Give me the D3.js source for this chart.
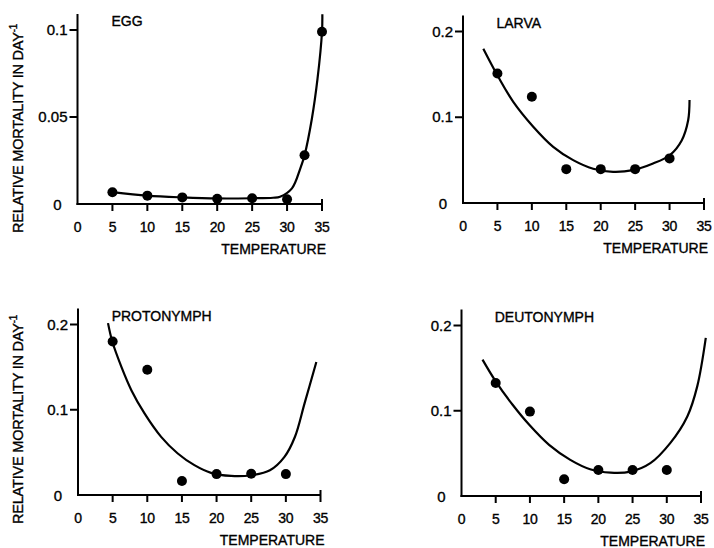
<!DOCTYPE html>
<html>
<head>
<meta charset="utf-8">
<script src="https://cdn.jsdelivr.net/npm/d3@7"></script>
<style>
  body { margin: 0; background: #fff; }
  svg { display: block; }
  text { font-family: "Liberation Sans", Arial, sans-serif; fill: #000; stroke: #000; stroke-width: 0.35px; }
</style>
</head>
<body>
<svg id="chart" width="714" height="548"></svg>
<script>
// measured points
const eggTemp = [5, 10, 15, 20, 25, 30, 32.5, 35];
const eggRate = [0.0068, 0.0048, 0.0038, 0.003, 0.0033, 0.0027, 0.028, 0.099];
const stageTemp = [5, 10, 15, 20, 25, 30];
const larvaRate = [0.151, 0.124, 0.0395, 0.0395, 0.0395, 0.052];
const protoRate = [0.180, 0.147, 0.0165, 0.0245, 0.025, 0.0245];
const deutoRate = [0.1325, 0.099, 0.0196, 0.0306, 0.0306, 0.0306];

// fitted curves
const eggCurveT = [5, 10, 15, 20, 25, 28, 29, 30.7, 31.9, 32.5, 33.55, 34.36, 35, 35.05];
const eggCurveV = [0.0068, 0.0048, 0.0038, 0.0032, 0.0033, 0.0036, 0.0042, 0.009, 0.0205, 0.028, 0.049, 0.072, 0.099, 0.109];
const larvaCurveT = [2.95, 5.13, 7.3, 10.2, 13.1, 16.0, 18.9, 21.8, 24.7, 27.6, 30.06, 31.76, 32.7, 32.9];
const larvaCurveV = [0.180, 0.147, 0.118, 0.089, 0.0655, 0.050, 0.040, 0.0364, 0.0384, 0.046, 0.056, 0.073, 0.0965, 0.12];
const protoCurveT = [4.33, 4.95, 6.25, 7.7, 9.6, 12.0, 14.4, 16.8, 19.2, 22.1, 25.0, 27.7, 29.8, 31.3, 32.7, 34.4];
const protoCurveV = [0.2016, 0.18, 0.1506, 0.123, 0.0957, 0.0682, 0.0487, 0.035, 0.026, 0.0224, 0.0232, 0.029, 0.0447, 0.068, 0.1075, 0.156];
const deutoCurveT = [3.07, 5.0, 7.47, 9.9, 12.8, 15.9, 18.8, 21.8, 24.7, 27.6, 30.5, 33.0, 34.45, 35.7];
const deutoCurveV = [0.16, 0.1345, 0.107, 0.0835, 0.06, 0.0424, 0.0314, 0.0274, 0.0286, 0.0385, 0.062, 0.0933, 0.1286, 0.1855];

const titles = ["EGG", "LARVA", "PROTONYMPH", "DEUTONYMPH"];
const xTicks = [0, 5, 10, 15, 20, 25, 30, 35];
const eggYTicks = [0, 0.05, 0.1];
const stageYTicks = [0, 0.1, 0.2];

const zip = (a, b) => a.map((v, i) => [v, b[i]]);

let panels = [
  {title: titles[0], pts: zip(eggTemp, eggRate), curve: zip(eggCurveT, eggCurveV), yTicks: eggYTicks,
   x0: 77.5, x1: 322, bottom: 204, h: 174, yLabel: true},
  {title: titles[1], pts: zip(stageTemp, larvaRate), curve: zip(larvaCurveT, larvaCurveV), yTicks: stageYTicks,
   x0: 463, x1: 704, bottom: 203, h: 171.5, yLabel: false},
  {title: titles[2], pts: zip(stageTemp, protoRate), curve: zip(protoCurveT, protoCurveV), yTicks: stageYTicks,
   x0: 78, x1: 320.5, bottom: 495, h: 170.5, yLabel: true},
  {title: titles[3], pts: zip(stageTemp, deutoRate), curve: zip(deutoCurveT, deutoCurveV), yTicks: stageYTicks,
   x0: 461.5, x1: 701, bottom: 496, h: 170.5, yLabel: false}
];

let svg = d3.select("#chart");
svg.append("rect").attr("width", 714).attr("height", 548).attr("fill", "#fff");

panels.forEach(function(p){
  let yMax = p.yTicks[p.yTicks.length - 1];
  let x = d3.scaleLinear().domain([0, 35]).range([p.x0, p.x1]);
  let y = d3.scaleLinear().domain([0, yMax]).range([p.bottom, p.bottom - p.h]);
  let g = svg.append("g");

  // axes and ticks as one path each
  let xt = xTicks.filter(d => d > 0).map(d => "M" + x(d) + "," + (p.bottom - (d === 35 ? 5 : 0)) + "V" + (p.bottom + 7)).join("");
  let yt = p.yTicks.filter(d => d > 0).map(d => "M" + (x(0) - 8) + "," + y(d) + "H" + x(0)).join("");
  g.append("path")
    .attr("d", "M" + (x(0) - 1) + "," + p.bottom + "H" + (x(35) + 1) + xt)
    .attr("fill", "none").attr("stroke", "#000").attr("stroke-width", 2);
  g.append("path")
    .attr("d", "M" + x(0) + "," + (p.bottom + 1) + "V" + (y(yMax) - 16) + yt)
    .attr("fill", "none").attr("stroke", "#000").attr("stroke-width", 2);

  g.selectAll("text.xl").data(xTicks).enter().append("text")
    .attr("class", "xl")
    .attr("x", d => x(d)).attr("y", p.bottom + 28)
    .attr("text-anchor", "middle").attr("font-size", 14).attr("letter-spacing", "-0.3px")
    .text(d3.format("d"));

  g.selectAll("text.yl").data(p.yTicks).enter().append("text")
    .attr("class", "yl")
    .attr("x", d => x(0) - (d === 0 ? 16 : 10))
    .attr("y", d => y(d) + (d === 0 ? 6 : 5))
    .attr("text-anchor", "end").attr("font-size", 15)
    .text(d => d === 0 ? "0" : String(d));

  // title
  g.append("text").attr("x", x(5) - 1).attr("y", y(yMax) - 4)
    .attr("font-size", 14).text(p.title);

  // x label
  g.append("text").attr("x", x(35) + 4).attr("y", p.bottom + 50)
    .attr("font-size", 14).attr("text-anchor", "end").text("TEMPERATURE");

  // y label
  if(p.yLabel){
    let t = g.append("text")
      .attr("transform", "translate(22.5," + (p.bottom + 29) + ") rotate(-90)")
      .attr("font-size", 14.5).attr("letter-spacing", "-0.2px");
    t.append("tspan").text("RELATIVE MORTALITY IN DAY");
    t.append("tspan").attr("dy", -6).attr("font-size", 10).text("-1");
  }

  // fitted curve
  let line = d3.line().x(d => x(d[0])).y(d => y(d[1])).curve(d3.curveCatmullRom.alpha(0.5));
  g.append("path").datum(p.curve).attr("d", line)
    .attr("fill", "none").attr("stroke", "#000").attr("stroke-width", 2.2);

  // observed points
  g.selectAll("circle").data(p.pts).enter().append("circle")
    .attr("cx", d => x(d[0])).attr("cy", d => y(d[1])).attr("r", 5).attr("fill", "#000");
});
</script>
</body>
</html>
